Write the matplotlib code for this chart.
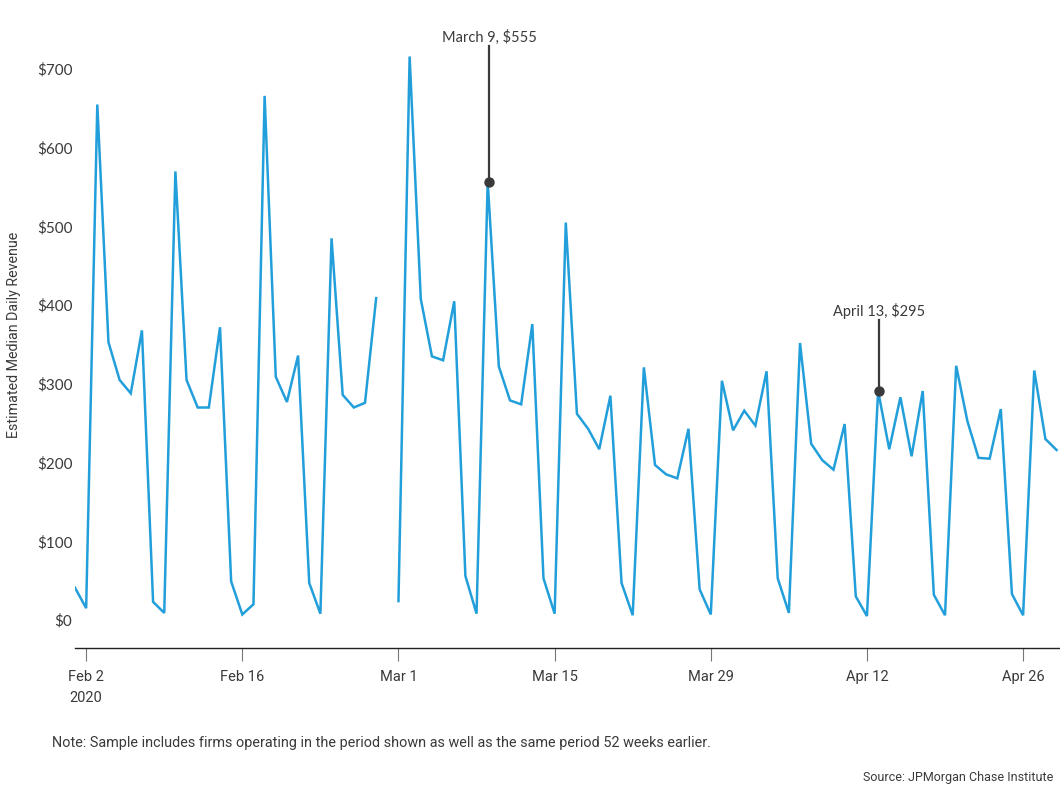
import numpy as np
import pandas as pd
import matplotlib
matplotlib.use("Agg")
import matplotlib.pyplot as plt

# ---------------- data ----------------
start_date = "2020-02-01"
end_date = "2020-04-29"
revenue = [
    # Feb 1 - Feb 29
    41, 15, 655, 353, 305, 288, 368, 23, 9, 570, 305, 270, 270, 372, 49, 7,
    20, 666, 309, 277, 336, 47, 8, 485, 286, 270, 276, 409, np.nan,
    # Mar 1 - Mar 31
    24, 716, 408, 335, 330, 405, 56, 8, 557, 322, 279, 274, 376, 53, 8, 505,
    262, 243, 217, 285, 47, 6, 321, 197, 185, 180, 243, 39, 7, 304, 241,
    # Apr 1 - Apr 29
    266, 247, 316, 53, 9, 352, 224, 203, 191, 249, 30, 5, 291, 217, 283, 208,
    291, 32, 6, 323, 253, 206, 205, 268, 33, 6, 317, 230, 216,
]
annot_dates = ["2020-03-09", "2020-04-13"]
annot_labels = ["March 9, $555", "April 13, $295"]
annot_text_y = [741, 393]
tick_dates = ["2020-02-02", "2020-02-16", "2020-03-01", "2020-03-15",
              "2020-03-29", "2020-04-12", "2020-04-26"]
tick_labels = ["Feb 2\n2020", "Feb 16", "Mar 1", "Mar 15", "Mar 29", "Apr 12", "Apr 26"]
y_ticks = [0, 100, 200, 300, 400, 500, 600, 700]

dates = pd.date_range(start_date, end_date, freq="D")
s = pd.Series(revenue, index=dates)

# ---------------- figure ----------------
W, H = 1060, 787
fig = plt.figure(figsize=(W / 100, H / 100), dpi=100)
ax = fig.add_axes([75 / W, 1 - 648 / H, 985 / W, (648 - 20) / H])

line_color = "#229fda"
dark = "#3a3a3a"
font_main = ["Lato", "DejaVu Sans"]
font_alt = ["Roboto", "DejaVu Sans"]

ax.plot(s.index, s.values, color=line_color, lw=1.8, solid_joinstyle="miter")

for d, lab, ty in zip(annot_dates, annot_labels, annot_text_y):
    dt = pd.Timestamp(d) + pd.Timedelta(hours=3)
    v = s[pd.Timestamp(d)]
    ax.plot([dt, dt], [v, ty - 12], color=dark, lw=1.6, zorder=3)
    ax.plot([dt], [v], "o", color=dark, ms=6.5, zorder=4)
    ax.text(dt, ty, lab, ha="center", va="center", fontsize=10.5,
            color=dark, family=font_main)

ax.set_xlim(pd.Timestamp("2020-02-01"), pd.Timestamp("2020-04-29") + pd.Timedelta(hours=7.4))
ax.set_ylim(-35.6, 762.4)

ax.set_xticks([pd.Timestamp(t) for t in tick_dates])
ax.set_xticklabels(tick_labels, family=font_alt, fontsize=10.5, color=dark,
                   ha="center", va="top", linespacing=1.6)
ax.tick_params(axis="x", length=9, width=0.8, color="#777777", pad=7)

ax.set_yticks(y_ticks)
ax.set_yticklabels([f"${v}" for v in y_ticks], family=font_main, fontsize=11, color=dark)
ax.tick_params(axis="y", length=0, pad=2)

for sp in ["top", "right", "left"]:
    ax.spines[sp].set_visible(False)
ax.spines["bottom"].set_color("#222222")
ax.spines["bottom"].set_linewidth(1.0)

ax.set_ylabel("Estimated Median Daily Revenue", family=font_alt, fontsize=10.3,
              color=dark)
ax.yaxis.set_label_coords(-54 / 985, (648 - 335) / 628)

fig.text(52 / W, 1 - 743 / H,
         "Note: Sample includes firms operating in the period shown as well as the same period 52 weeks earlier.",
         family=font_alt, fontsize=10.4, color=dark, ha="left", va="center")
fig.text(1053 / W, 1 - 777 / H, "Source: JPMorgan Chase Institute",
         family=font_alt, fontsize=9.0, color=dark, ha="right", va="center")

fig.savefig("out.png", dpi=100)
